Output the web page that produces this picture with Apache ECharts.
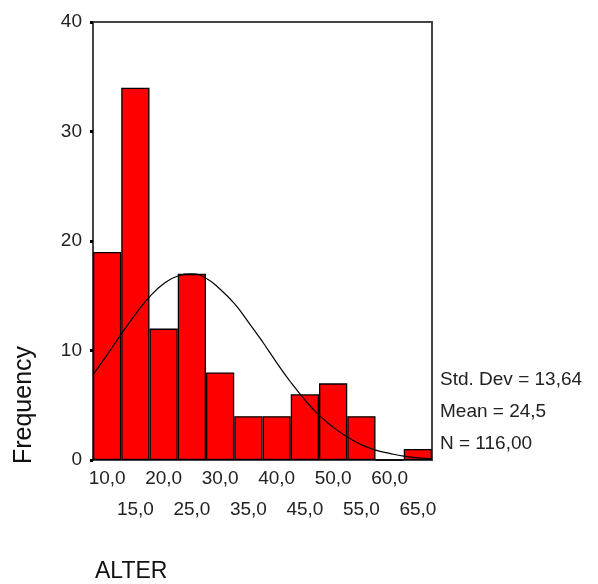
<!DOCTYPE html>
<html>
<head>
<meta charset="utf-8">
<script src="https://cdn.jsdelivr.net/npm/echarts@6/dist/echarts.min.js"></script>
<style>
  html, body { margin: 0; padding: 0; background: #fff; }
  #main { width: 598px; height: 584px; }
</style>
</head>
<body>
<div id="main"></div>
<script>
// histogram bins (midpoints) and counts
const binLabels = ['10,0', '15,0', '20,0', '25,0', '30,0', '35,0', '40,0', '45,0', '50,0', '55,0', '60,0', '65,0']
const counts = [19, 34, 12, 17, 8, 4, 4, 6, 7, 4, 0, 1]
// normal curve
const curveX = [7.5, 10, 12.5, 15, 17.5, 20, 22.5, 25, 27.5, 30, 32.5, 35, 37.5, 40, 42.5, 45, 47.5, 50, 52.5, 55, 57.5, 60, 62.5, 65, 67.5]
const curveY = [7.8, 9.6, 11.5, 13.3, 14.9, 16.1, 16.8, 17.0, 16.6, 15.6, 14.3, 12.6, 10.8, 8.9, 7.1, 5.5, 4.1, 3.0, 2.1, 1.4, 0.9, 0.6, 0.35, 0.2, 0.1]
const yTicks = { min: 0, max: 40, interval: 10 }
const statLines = ['Std. Dev = 13,64', 'Mean = 24,5', 'N = 116,00']

const font = "'Liberation Sans', Arial, sans-serif"
const textColor = '#222'
const axisColor = '#444'

const myChart = echarts.init(document.getElementById('main'))

const option = {
  animation: false,
  grid: {
    left: 93,
    right: 166,
    top: 22,
    bottom: 124,
    show: true,
    borderColor: axisColor,
    borderWidth: 2,
    backgroundColor: 'transparent'
  },
  xAxis: [
    {
      type: 'category',
      data: binLabels,
      axisLine: { lineStyle: { color: axisColor, width: 2 } },
      axisTick: { alignWithLabel: true, length: 3, lineStyle: { color: '#000', width: 3 } },
      axisLabel: {
        interval: 0,
        color: textColor,
        fontFamily: font,
        fontSize: 19,
        lineHeight: 31,
        margin: 3,
        formatter: function (v, i) {
          return i % 2 ? '\n' + v : v
        }
      },
      splitLine: { show: false }
    },
    {
      type: 'value',
      min: 7.5,
      max: 67.5,
      show: false
    }
  ],
  yAxis: {
    type: 'value',
    min: yTicks.min,
    max: yTicks.max,
    interval: yTicks.interval,
    axisLine: { show: true, lineStyle: { color: axisColor, width: 2 } },
    axisTick: { show: true, length: 3, lineStyle: { color: '#000', width: 3 } },
    axisLabel: { color: textColor, fontFamily: font, fontSize: 19, margin: 11 },
    splitLine: { show: false }
  },
  series: [
    {
      type: 'bar',
      data: counts,
      barWidth: '100%',
      barCategoryGap: 0,
      itemStyle: { color: '#ff0000', borderColor: '#000', borderWidth: 1.3 }
    },
    {
      type: 'line',
      xAxisIndex: 1,
      data: curveX.map((x, i) => [x, curveY[i]]),
      smooth: true,
      symbol: 'none',
      lineStyle: { color: '#000', width: 1.2 },
      z: 5
    }
  ],
  graphic: [
    {
      type: 'text',
      x: 24,
      y: 405,
      rotation: Math.PI / 2,
      style: {
        text: 'Frequency',
        font: '25px ' + font,
        fill: '#111',
        textAlign: 'center',
        textVerticalAlign: 'middle'
      }
    },
    {
      type: 'text',
      x: 95,
      y: 572,
      style: {
        text: 'ALTER',
        font: '23px ' + font,
        fill: '#111',
        textAlign: 'left',
        textVerticalAlign: 'middle'
      }
    }
  ].concat(statLines.map((t, i) => ({
    type: 'text',
    x: 440,
    y: 380 + i * 32,
    style: {
      text: t,
      font: '19px ' + font,
      fill: textColor,
      textAlign: 'left',
      textVerticalAlign: 'middle'
    }
  })))
}

myChart.setOption(option)
</script>
</body>
</html>
